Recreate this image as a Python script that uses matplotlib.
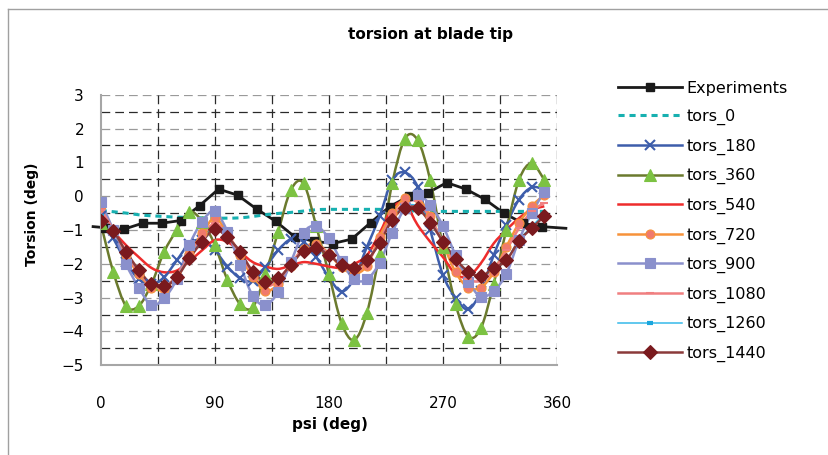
import numpy as np
import matplotlib
matplotlib.use("Agg")
import matplotlib.pyplot as plt
from matplotlib.path import Path
from matplotlib.patches import PathPatch
from matplotlib.lines import Line2D

# ---------------- data ----------------
psi = list(range(0, 360, 10))

exp_psi = [-6, 3, 18, 33, 48, 63, 78, 93, 108, 123, 138, 153, 168, 183, 198, 213,
           228, 243, 258, 273, 288, 303, 318, 333, 348, 367]
exp_val = [-0.9, -0.93, -0.98, -0.8, -0.8, -0.72, -0.28, 0.21, 0.03, -0.38, -0.74,
           -1.2, -1.33, -1.4, -1.27, -0.78, -0.31, 0.0, 0.1, 0.4, 0.21, -0.09, -0.5,
           -0.8, -0.9, -0.95]

tors_0 = [-0.42, -0.46, -0.5, -0.55, -0.58, -0.6, -0.62, -0.63, -0.64, -0.65, -0.65,
          -0.64, -0.6, -0.55, -0.51, -0.48, -0.44, -0.4, -0.39, -0.39, -0.39, -0.39,
          -0.39, -0.41, -0.43, -0.44, -0.45, -0.45, -0.45, -0.45, -0.45, -0.45, -0.45,
          -0.45, -0.45, -0.45]
tors_180 = [-0.6, -1.25, -1.95, -2.45, -2.6, -2.4, -1.9, -1.4, -1.3, -1.6, -2.08,
            -2.43, -2.5, -2.1, -1.6, -1.27, -1.35, -1.8, -2.4, -2.82, -2.43, -1.5,
            -0.6, 0.48, 0.7, 0.28, -1.0, -2.33, -3.0, -3.35, -2.8, -1.75, -0.85,
            -0.1, 0.26, 0.2]
tors_360 = [-0.8, -2.25, -3.25, -3.25, -2.6, -1.65, -1.0, -0.46, -0.75, -1.44, -2.48,
            -3.19, -3.28, -2.3, -1.05, 0.18, 0.38, -0.88, -2.3, -3.75, -4.25, -3.45,
            -1.7, 0.38, 1.7, 1.66, 0.47, -1.5, -3.2, -4.15, -3.9, -2.6, -1.0, 0.48,
            0.97, 0.48]
tors_540 = [-0.7, -1.05, -1.45, -1.8, -2.12, -2.25, -2.2, -1.92, -1.6, -1.3, -1.35,
            -1.65, -1.95, -2.08, -2.15, -2.05, -1.95, -2.0, -2.08, -2.12, -2.0, -1.75,
            -1.1, -0.35, -0.22, -0.85, -1.35, -1.8, -2.3, -2.38, -1.98, -1.4, -1.0,
            -0.65, -0.4, -0.3]
tors_720 = [-0.3, -1.0, -1.75, -2.3, -2.7, -2.75, -2.35, -1.7, -1.1, -0.65, -1.1,
            -1.75, -2.4, -2.8, -2.6, -2.05, -1.55, -1.4, -1.7, -2.1, -2.3, -2.05,
            -1.2, -0.5, -0.06, -0.05, -0.6, -1.4, -2.25, -2.7, -2.7, -2.25, -1.5,
            -0.8, -0.3, 0.04]
tors_900 = [-0.18, -1.0, -2.0, -2.7, -3.22, -3.02, -2.45, -1.44, -0.75, -0.44, -1.05,
            -2.03, -2.95, -3.22, -2.82, -1.95, -1.08, -0.88, -1.25, -1.93, -2.46,
            -2.46, -1.97, -1.08, -0.35, 0.02, -0.26, -0.88, -1.75, -2.53, -2.97, -2.8,
            -2.3, -1.3, -0.5, 0.13]
tors_1080 = [-0.4, -1.0, -1.7, -2.25, -2.65, -2.7, -2.35, -1.75, -1.2, -0.8, -1.15,
             -1.7, -2.3, -2.65, -2.5, -2.0, -1.55, -1.45, -1.7, -2.05, -2.2, -2.0,
             -1.3, -0.6, -0.2, -0.15, -0.65, -1.35, -2.0, -2.45, -2.5, -2.2, -1.6,
             -0.95, -0.45, -0.2]
tors_1260 = [-0.6, -1.05, -1.65, -2.2, -2.62, -2.68, -2.38, -1.8, -1.3, -0.95, -1.2,
             -1.65, -2.25, -2.55, -2.45, -2.03, -1.6, -1.52, -1.72, -2.02, -2.12, -1.9,
             -1.38, -0.68, -0.3, -0.3, -0.75, -1.33, -1.88, -2.25, -2.38, -2.15, -1.88,
             -1.3, -0.9, -0.52]
tors_1440 = [-0.73, -1.03, -1.64, -2.18, -2.6, -2.67, -2.4, -1.84, -1.34, -0.98, -1.22,
             -1.64, -2.23, -2.53, -2.43, -2.03, -1.62, -1.54, -1.74, -2.03, -2.13, -1.9,
             -1.39, -0.7, -0.34, -0.36, -0.78, -1.34, -1.86, -2.23, -2.36, -2.13, -1.9,
             -1.32, -0.95, -0.59]

xticks = [0, 90, 180, 270, 360]
yticks = [3, 2, 1, 0, -1, -2, -3, -4, -5]

# ---------------- figure ----------------
W, H = 829, 455
fig = plt.figure(figsize=(W / 100, H / 100), dpi=100)
fig.patch.set_facecolor("white")
ax = fig.add_axes([100.7 / W, 1 - 365.3 / H, (557 - 100.7) / W, (365.3 - 94.7) / H])
ax.set_xlim(0, 360)
ax.set_ylim(-5, 3)
ax.set_facecolor("white")

# grid
for v in np.arange(-4.5, 3.01, 0.5):
    if abs(v - round(v)) < 1e-9:
        ax.axhline(v, color="#9a9a9a", lw=0.9, dashes=(7, 4), zorder=0.5)
    else:
        ax.axhline(v, color="#2a2a2a", lw=0.9, dashes=(7, 4), zorder=0.5)
for v in range(45, 361, 45):
    ax.axvline(v, color="#2a2a2a", lw=0.9, dashes=(7, 4), zorder=0.5)

for s in ["top", "right"]:
    ax.spines[s].set_visible(False)
for s in ["left", "bottom"]:
    ax.spines[s].set_color("#a6a6a6")
    ax.spines[s].set_linewidth(1.5)

ax.set_xticks(xticks)
ax.set_yticks(yticks)
ax.tick_params(axis="both", length=0, labelsize=11, colors="#000000")
ax.tick_params(axis="x", pad=22)
ax.tick_params(axis="y", pad=12)


def smooth_path(xs, ys):
    pts = np.column_stack([xs, ys]).astype(float)
    n = len(pts)
    verts = [pts[0]]
    codes = [Path.MOVETO]
    for i in range(n - 1):
        p0 = pts[i - 1] if i > 0 else pts[i]
        p1 = pts[i]
        p2 = pts[i + 1]
        p3 = pts[i + 2] if i + 2 < n else pts[i + 1]
        c1 = p1 + (p2 - p0) / 6.0
        c2 = p2 - (p3 - p1) / 6.0
        verts += [c1, c2, p2]
        codes += [Path.CURVE4] * 3
    return Path(verts, codes)


series = [
    # name, data, line color, lw, marker, mfc, mec, ms, dashes
    ("tors_0", tors_0, "#17b0b0", 2.2, None, None, None, 0, (2.0, 1.6)),
    ("tors_180", tors_180, "#3d5dab", 1.8, "x", "#3d5dab", "#3d5dab", 7, None),
    ("tors_360", tors_360, "#6b7a2e", 1.8, "^", "#7cc242", "#7cc242", 8, None),
    ("tors_540", tors_540, "#ee2c2c", 1.8, None, None, None, 0, None),
    ("tors_720", tors_720, "#f7923a", 1.8, "o", "#f07a6c", "#f7923a", 6.5, None),
    ("tors_900", tors_900, "#8a90cc", 1.8, "s", "#8a90cc", "#8a90cc", 6.5, None),
    ("tors_1080", tors_1080, "#f07f80", 1.8, "_", "#f07f80", "#f07f80", 6, None),
    ("tors_1260", tors_1260, "#35b9ea", 1.1, "_", "#1aa6dd", "#1aa6dd", 5, None),
    ("tors_1440", tors_1440, "#8b3a3a", 1.8, "D", "#7a1a1e", "#7a1a1e", 7, None),
]

# experiments (straight segments)
ax.plot(exp_psi, exp_val, color="#1a1a1a", lw=2.0, zorder=2, clip_on=False)
ax.plot(exp_psi[1:-1], exp_val[1:-1], ls="none", marker="s", ms=6,
        color="#1a1a1a", zorder=20)

handles = [Line2D([], [], color="#1a1a1a", lw=2.0, marker="s", ms=6,
                  markerfacecolor="#1a1a1a", markeredgecolor="#1a1a1a")]
labels = ["Experiments"]

for k, (name, data, col, lw, mk, mfc, mec, ms, dash) in enumerate(series):
    p = smooth_path(psi, data)
    patch = PathPatch(p, facecolor="none", edgecolor=col, lw=lw, zorder=3 + k * 0.1,
                      capstyle="butt", joinstyle="round")
    if dash is not None:
        patch.set_linestyle((0, dash))
    ax.add_patch(patch)
    if name == "tors_1260":
        mew = 3
    elif mk in ("x", "_"):
        mew = 1.5
    else:
        mew = 0.8
    if mk is not None:
        ax.plot(psi, data, ls="none", marker=mk, ms=ms, markerfacecolor=mfc,
                markeredgecolor=mec, markeredgewidth=mew, zorder=21 + k)
        h = Line2D([], [], color=col, lw=lw, marker=mk, ms=ms,
                   markerfacecolor=mfc, markeredgecolor=mec, markeredgewidth=mew)
    else:
        h = Line2D([], [], color=col, lw=lw)
    if dash is not None:
        h.set_linestyle((0, dash))
    handles.append(h)
    labels.append(name)

leg = fig.legend(handles, labels, loc="upper left",
                 bbox_to_anchor=(618 / W, 1 - 80.5 / H), frameon=False,
                 fontsize=11.5, handlelength=4.0, handletextpad=0.3,
                 labelspacing=0.84, borderpad=0, borderaxespad=0, markerscale=1.0)

fig.text(431 / W, 1 - 35 / H, "torsion at blade tip", ha="center", va="center",
         fontsize=11, fontweight="bold")
fig.text(32 / W, 1 - 214 / H, "Torsion (deg)", ha="center", va="center",
         rotation=90, fontsize=10, fontweight="bold")
fig.text(330 / W, 1 - 425 / H, "psi (deg)", ha="center", va="center",
         fontsize=11, fontweight="bold")

# chart border (top and left edges visible)
fig.add_artist(Line2D([8.5 / W, 8.5 / W], [0, 1 - 8.5 / H], color="#a0a0a0", lw=1.0,
                      transform=fig.transFigure))
fig.add_artist(Line2D([8.5 / W, 1], [1 - 8.5 / H, 1 - 8.5 / H], color="#a0a0a0",
                      lw=1.0, transform=fig.transFigure))

fig.savefig("out.png", dpi=100, facecolor="white")
